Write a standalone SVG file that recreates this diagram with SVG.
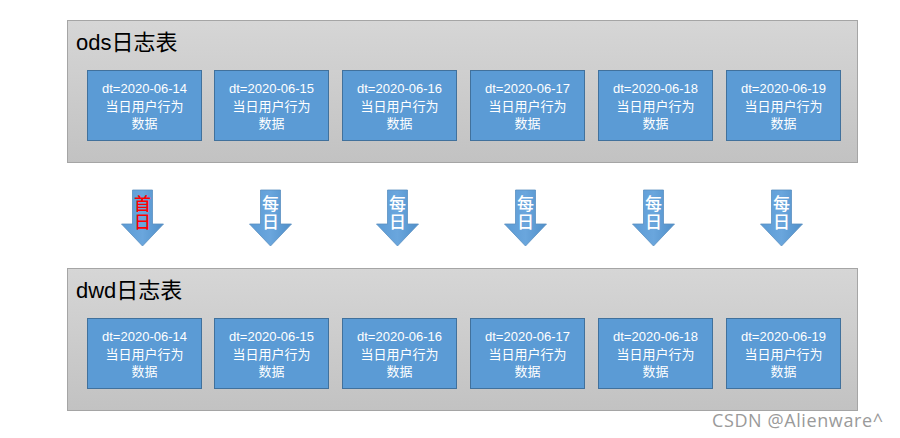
<svg xmlns="http://www.w3.org/2000/svg" width="900" height="438" viewBox="0 0 900 438">
<defs>
<linearGradient id="gray" x1="0" y1="0" x2="0" y2="1">
<stop offset="0" stop-color="#d6d6d6"/>
<stop offset="1" stop-color="#c2c2c2"/>
</linearGradient>
<linearGradient id="arr" x1="0" y1="0" x2="1" y2="0">
<stop offset="0" stop-color="#5b9bd5"/>
<stop offset="0.5" stop-color="#6aa6dd"/>
<stop offset="1" stop-color="#4f8fc9"/>
</linearGradient>
<path id="arrow" d="M-10,0 H10 V34 H21 L0,56 L-21,34 H-10 Z"/>
</defs>
<style>
.outer{fill:url(#gray);stroke:#a5a5a5;stroke-width:1}
.box{fill:#5b9bd5;stroke:#41719c;stroke-width:1}
.title{font-family:"Liberation Sans","Noto Sans CJK SC",sans-serif;font-size:22px;fill:#000}
.lbl{font-family:"Liberation Sans","Noto Sans CJK SC",sans-serif;font-size:13px;fill:#fff;text-anchor:middle}
.ar{fill:url(#arr);stroke:#5a8fc0;stroke-width:0.8}
.at{font-family:"Noto Sans CJK SC",sans-serif;font-size:17px;font-weight:500;fill:#fff;writing-mode:tb;glyph-orientation-vertical:0;letter-spacing:1px}
.red{fill:#ff0000}
.wm{font-family:"Open Sans","Noto Sans",sans-serif;font-size:18px;fill:#9a9a9a;letter-spacing:0.6px}
</style>
<g id="ods">
<rect class="outer" x="67.5" y="20.5" width="790" height="142"/>
<text class="title" x="76" y="50">ods日志表</text>
</g>
<g id="ods-14"><rect class="box" x="87.5" y="70.5" width="114" height="70"/><text class="lbl" x="144.5" y="93">dt=2020-06-14</text><text class="lbl" x="144.5" y="111">当日用户行为</text><text class="lbl" x="144.5" y="128">数据</text></g>
<g id="ods-15"><rect class="box" x="214.5" y="70.5" width="114" height="70"/><text class="lbl" x="271.5" y="93">dt=2020-06-15</text><text class="lbl" x="271.5" y="111">当日用户行为</text><text class="lbl" x="271.5" y="128">数据</text></g>
<g id="ods-16"><rect class="box" x="342.5" y="70.5" width="114" height="70"/><text class="lbl" x="399.5" y="93">dt=2020-06-16</text><text class="lbl" x="399.5" y="111">当日用户行为</text><text class="lbl" x="399.5" y="128">数据</text></g>
<g id="ods-17"><rect class="box" x="470.5" y="70.5" width="114" height="70"/><text class="lbl" x="527.5" y="93">dt=2020-06-17</text><text class="lbl" x="527.5" y="111">当日用户行为</text><text class="lbl" x="527.5" y="128">数据</text></g>
<g id="ods-18"><rect class="box" x="598.5" y="70.5" width="114" height="70"/><text class="lbl" x="655.5" y="93">dt=2020-06-18</text><text class="lbl" x="655.5" y="111">当日用户行为</text><text class="lbl" x="655.5" y="128">数据</text></g>
<g id="ods-19"><rect class="box" x="726.5" y="70.5" width="114" height="70"/><text class="lbl" x="783.5" y="93">dt=2020-06-19</text><text class="lbl" x="783.5" y="111">当日用户行为</text><text class="lbl" x="783.5" y="128">数据</text></g>

<g id="connectors">
<g transform="translate(142.5,190)"><use href="#arrow" class="ar"/><text class="at red" x="0" y="5">首日</text></g>
<g transform="translate(270.5,190)"><use href="#arrow" class="ar"/><text class="at" x="0" y="5">每日</text></g>
<g transform="translate(397.5,190)"><use href="#arrow" class="ar"/><text class="at" x="0" y="5">每日</text></g>
<g transform="translate(525.5,190)"><use href="#arrow" class="ar"/><text class="at" x="0" y="5">每日</text></g>
<g transform="translate(653.5,190)"><use href="#arrow" class="ar"/><text class="at" x="0" y="5">每日</text></g>
<g transform="translate(781.5,190)"><use href="#arrow" class="ar"/><text class="at" x="0" y="5">每日</text></g>
</g>

<g id="dwd">
<rect class="outer" x="67.5" y="268.5" width="790" height="142"/>
<text class="title" x="76" y="298">dwd日志表</text>
</g>
<g id="dwd-14"><rect class="box" x="87.5" y="318.5" width="114" height="70"/><text class="lbl" x="144.5" y="341">dt=2020-06-14</text><text class="lbl" x="144.5" y="359">当日用户行为</text><text class="lbl" x="144.5" y="376">数据</text></g>
<g id="dwd-15"><rect class="box" x="214.5" y="318.5" width="114" height="70"/><text class="lbl" x="271.5" y="341">dt=2020-06-15</text><text class="lbl" x="271.5" y="359">当日用户行为</text><text class="lbl" x="271.5" y="376">数据</text></g>
<g id="dwd-16"><rect class="box" x="342.5" y="318.5" width="114" height="70"/><text class="lbl" x="399.5" y="341">dt=2020-06-16</text><text class="lbl" x="399.5" y="359">当日用户行为</text><text class="lbl" x="399.5" y="376">数据</text></g>
<g id="dwd-17"><rect class="box" x="470.5" y="318.5" width="114" height="70"/><text class="lbl" x="527.5" y="341">dt=2020-06-17</text><text class="lbl" x="527.5" y="359">当日用户行为</text><text class="lbl" x="527.5" y="376">数据</text></g>
<g id="dwd-18"><rect class="box" x="598.5" y="318.5" width="114" height="70"/><text class="lbl" x="655.5" y="341">dt=2020-06-18</text><text class="lbl" x="655.5" y="359">当日用户行为</text><text class="lbl" x="655.5" y="376">数据</text></g>
<g id="dwd-19"><rect class="box" x="726.5" y="318.5" width="114" height="70"/><text class="lbl" x="783.5" y="341">dt=2020-06-19</text><text class="lbl" x="783.5" y="359">当日用户行为</text><text class="lbl" x="783.5" y="376">数据</text></g>

<text class="wm" x="712" y="427">CSDN @Alienware^</text>
</svg>
